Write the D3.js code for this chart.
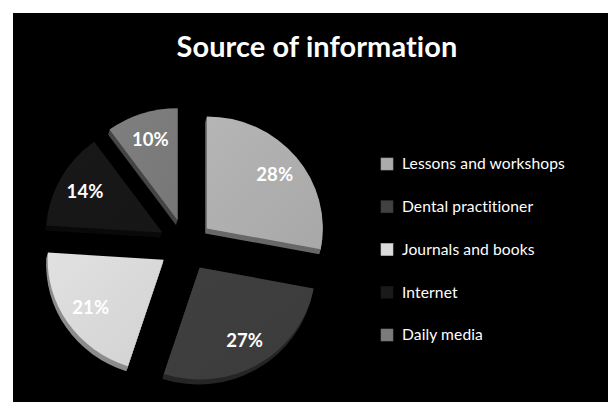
<!DOCTYPE html>
<html>
<head>
<meta charset="utf-8">
<script src="https://cdn.jsdelivr.net/npm/d3@7"></script>
<style>
  html, body { margin: 0; padding: 0; background: #ffffff; }
  svg { display: block; }
  text { font-variant-ligatures: none; font-feature-settings: "liga" 0, "clig" 0; letter-spacing: 0.1px; }
</style>
</head>
<body>
<svg id="chart" width="608" height="402"></svg>
<script>
// ---- data ----
const title = "Source of information";
const categories = ["Lessons and workshops", "Dental practitioner", "Journals and books", "Internet", "Daily media"];
const values = [28, 27, 21, 14, 10];

// ---- styles ----
const topColors  = ["#adadad", "#3d3d3d", "#d8d8d8", "#171717", "#7a7a7a"];
const sideColors = ["#686868", "#262626", "#8c8c8c", "#0a0a0a", "#454545"];
const legendColors = ["#ababab", "#414141", "#dcdcdc", "#1a1a1a", "#7b7b7b"];
const fontFamily = "Lato, 'Open Sans', 'DejaVu Sans', sans-serif";

const W = 608, H = 402;
const svg = d3.select("#chart");

// black chart area
svg.append("rect").attr("x", 13).attr("y", 13).attr("width", W - 13).attr("height", H - 13).attr("fill", "#000");

// helper to fit a text element to a target width
function fitWidth(sel, target) {
  const len = sel.node().getComputedTextLength();
  const fs = parseFloat(sel.attr("font-size"));
  sel.attr("font-size", (fs * target / len).toFixed(2));
}

// title
const t = svg.append("text")
  .attr("x", 317).attr("y", 57)
  .attr("text-anchor", "middle")
  .attr("fill", "#fff")
  .attr("font-family", fontFamily)
  .attr("font-weight", "bold")
  .attr("font-size", 28)
  .text(title);
fitWidth(t, 281);

// pie geometry
const cx = 186, cy = 245, rx = 116, ry = 112, k = ry / rx;
const explode = 27, depth = 5;

const pie = d3.pie().sort(null).value(d => d).startAngle(0).endAngle(2 * Math.PI);
const arcs = pie(values);
const arc = d3.arc().innerRadius(0).outerRadius(rx);

const defs = svg.append("defs");
arcs.forEach((a, i) => {
  const g = defs.append("linearGradient").attr("id", "g" + i)
    .attr("x1", "0%").attr("y1", "0%").attr("x2", "100%").attr("y2", "100%");
  const c = d3.color(topColors[i]);
  g.append("stop").attr("offset", "0%").attr("stop-color", c.brighter(0.12));
  g.append("stop").attr("offset", "100%").attr("stop-color", c.darker(0.08));
});

const pieG = svg.append("g");
arcs.forEach((a, i) => {
  const mid = (a.startAngle + a.endAngle) / 2;
  const ox = cx + explode * Math.sin(mid);
  const oy = cy - explode * Math.cos(mid) * k;
  // side (extrusion)
  for (let dz = depth; dz >= 1; dz--) {
    pieG.append("path")
      .attr("d", arc(a))
      .attr("transform", `translate(${ox - dz * 0.3},${oy + dz}) scale(1,${k})`)
      .attr("fill", sideColors[i]);
  }
  // top face
  pieG.append("path")
    .attr("d", arc(a))
    .attr("transform", `translate(${ox},${oy}) scale(1,${k})`)
    .attr("fill", `url(#g${i})`);
  // label
  const lr = 0.76 * rx;
  pieG.append("text")
    .attr("x", ox + lr * Math.sin(mid))
    .attr("y", oy - lr * Math.cos(mid) * k)
    .attr("dy", "0.36em")
    .attr("text-anchor", "middle")
    .attr("fill", "#fff")
    .attr("font-family", fontFamily)
    .attr("font-weight", "bold")
    .attr("font-size", 18.5)
    .text(values[i] + "%");
});

// legend
const ly = d3.scalePoint().domain(categories).range([164, 335]);
const leg = svg.append("g");
categories.forEach((c, i) => {
  leg.append("rect")
    .attr("x", 381).attr("y", ly(c) - 6)
    .attr("width", 12).attr("height", 12)
    .attr("fill", legendColors[i])
    .attr("stroke", d3.color(legendColors[i]).darker(0.3))
    .attr("stroke-width", 0.6);
});
const legTexts = categories.map((c, i) => leg.append("text")
  .attr("x", 402).attr("y", ly(c))
  .attr("dy", "0.35em")
  .attr("fill", "#fff")
  .attr("font-family", fontFamily)
  .attr("font-size", 16)
  .text(c));
// scale all legend texts uniformly using the first one's measured width
const len0 = legTexts[0].node().getComputedTextLength();
const fsLeg = 16 * 163 / len0;
legTexts.forEach(s => s.attr("font-size", fsLeg.toFixed(2)));
</script>
</body>
</html>
